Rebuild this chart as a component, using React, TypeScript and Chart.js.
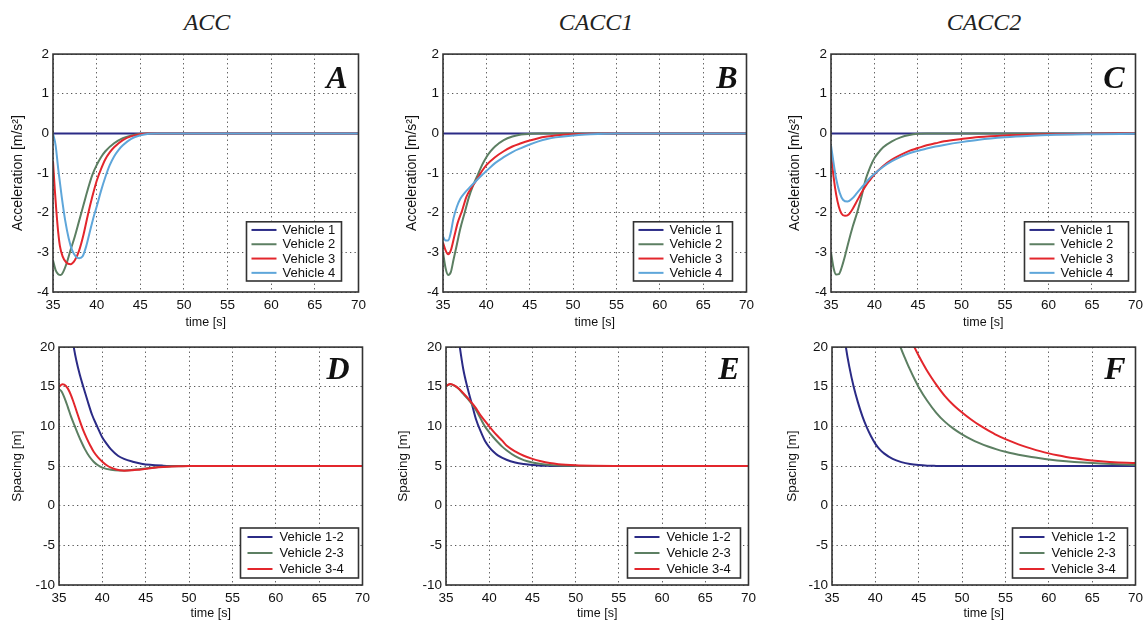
import React, { useEffect, useRef } from "react";
import { Chart, registerables } from "chart.js";

Chart.register(...registerables);

const SANS = '"Liberation Sans", Arial, Helvetica, sans-serif';
const SERIF = '"Liberation Serif", "Times New Roman", serif';

// ---------------- tick labels / categories ----------------
const X_TICKS = [35, 40, 45, 50, 55, 60, 65, 70];
const ACC_Y_TICKS = [-4, -3, -2, -1, 0, 1, 2];
const SPC_Y_TICKS = [-10, -5, 0, 5, 10, 15, 20];
const COLUMN_TITLES = ["ACC", "CACC1", "CACC2"];
const PANEL_LETTERS = ["A", "B", "C", "D", "E", "F"];
const ACC_LABELS = ["Vehicle 1", "Vehicle 2", "Vehicle 3", "Vehicle 4"];
const SPC_LABELS = ["Vehicle 1-2", "Vehicle 2-3", "Vehicle 3-4"];

// ---------------- A: ACC acceleration ----------------
const A_V1_T = [35, 70];
const A_V1 = [0, 0];
const A_V2_T = [35, 35.3, 35.6, 35.9, 36.2, 36.6, 37.0, 37.5, 38.0, 38.5, 39.0, 39.5, 40, 40.5, 41, 42, 43, 44, 45, 46, 70];
const A_V2 = [-3.2, -3.45, -3.55, -3.57, -3.48, -3.25, -2.95, -2.6, -2.2, -1.8, -1.4, -1.05, -0.8, -0.6, -0.45, -0.25, -0.12, -0.05, -0.01, 0, 0];
const A_V3_T = [35, 35.2, 35.4, 35.6, 35.8, 36.1, 36.5, 37.0, 37.5, 38.0, 38.5, 39.0, 39.5, 40, 40.5, 41, 41.5, 42, 43, 44, 45, 46, 70];
const A_V3 = [-0.7, -1.4, -2.0, -2.5, -2.85, -3.1, -3.25, -3.3, -3.2, -2.95, -2.55, -2.05, -1.6, -1.2, -0.9, -0.65, -0.48, -0.35, -0.17, -0.07, -0.02, 0, 0];
const A_V4_T = [35, 35.3, 35.6, 36.0, 36.4, 36.8, 37.2, 37.6, 38.0, 38.4, 38.8, 39.2, 39.6, 40.0, 40.5, 41, 41.5, 42, 42.5, 43, 44, 45, 46, 47, 70];
const A_V4 = [0, -0.3, -0.9, -1.6, -2.2, -2.65, -2.95, -3.1, -3.15, -3.1, -2.85, -2.5, -2.15, -1.85, -1.45, -1.1, -0.8, -0.58, -0.42, -0.3, -0.13, -0.05, -0.01, 0, 0];

// ---------------- B: CACC1 acceleration ----------------
const B_V1_T = [35, 70];
const B_V1 = [0, 0];
const B_V2_T = [35, 35.3, 35.6, 35.9, 36.2, 36.6, 37, 37.5, 38, 38.5, 39, 39.5, 40, 40.5, 41, 42, 43, 44, 45, 46, 70];
const B_V2 = [-3.0, -3.4, -3.57, -3.5, -3.2, -2.8, -2.4, -2.0, -1.6, -1.3, -1.05, -0.8, -0.6, -0.45, -0.33, -0.17, -0.08, -0.03, -0.01, 0, 0];
const B_V3_T = [35, 35.3, 35.6, 35.9, 36.3, 36.7, 37.2, 37.7, 38.2, 38.8, 39.5, 40, 41, 42, 43, 44, 45, 46, 47, 48, 50, 52, 54, 70];
const B_V3 = [-2.75, -2.95, -3.05, -2.95, -2.6, -2.25, -1.95, -1.6, -1.4, -1.2, -0.95, -0.8, -0.6, -0.45, -0.33, -0.25, -0.18, -0.12, -0.08, -0.05, -0.02, -0.01, 0, 0];
const B_V4_T = [35, 35.3, 35.6, 35.9, 36.2, 36.6, 37.0, 37.5, 38, 38.8, 39.5, 40, 41, 42, 43, 44, 45, 46, 47, 48, 50, 52, 55, 70];
const B_V4 = [-2.6, -2.7, -2.7, -2.5, -2.15, -1.85, -1.65, -1.5, -1.38, -1.2, -1.05, -0.95, -0.75, -0.6, -0.47, -0.37, -0.28, -0.2, -0.14, -0.1, -0.05, -0.02, 0, 0];

// ---------------- C: CACC2 acceleration ----------------
const C_V1_T = [35, 70];
const C_V1 = [0, 0];
const C_V2_T = [35, 35.3, 35.6, 35.9, 36.2, 36.6, 37, 37.5, 38, 38.5, 39, 39.5, 40, 40.5, 41, 42, 43, 44, 45, 46, 70];
const C_V2 = [-3.0, -3.4, -3.56, -3.55, -3.4, -3.1, -2.75, -2.35, -2.0, -1.6, -1.15, -0.85, -0.62, -0.47, -0.35, -0.2, -0.1, -0.04, -0.01, 0, 0];
const C_V3_T = [35, 35.3, 35.6, 35.9, 36.2, 36.6, 37.0, 37.5, 38, 38.5, 39, 39.5, 40, 41, 42, 43, 44, 45, 46, 47, 48, 50, 52, 55, 58, 60, 65, 70];
const C_V3 = [-0.5, -1.1, -1.55, -1.85, -2.02, -2.08, -2.05, -1.9, -1.7, -1.5, -1.32, -1.17, -1.03, -0.82, -0.66, -0.54, -0.44, -0.37, -0.3, -0.25, -0.2, -0.14, -0.09, -0.05, -0.03, -0.02, -0.01, 0];
const C_V4_T = [35, 35.3, 35.6, 36.0, 36.4, 36.9, 37.4, 38, 38.5, 39, 39.5, 40, 41, 42, 43, 44, 45, 46, 47, 48, 50, 52, 55, 58, 60, 65, 70];
const C_V4 = [-0.3, -0.75, -1.15, -1.5, -1.68, -1.72, -1.65, -1.5, -1.37, -1.24, -1.12, -1.02, -0.84, -0.7, -0.59, -0.5, -0.44, -0.38, -0.33, -0.29, -0.22, -0.16, -0.1, -0.06, -0.04, -0.02, -0.01];

// ---------------- D: ACC spacing ----------------
const D_S12_T = [36.4, 36.7, 37.0, 37.4, 37.8, 38.3, 38.8, 39.4, 40, 40.5, 41, 41.8, 42.5, 43.5, 44.5, 45.5, 47, 48, 50, 70];
const D_S12 = [22, 20, 18.3, 16.5, 15, 13.2, 11.5, 10, 8.6, 7.8, 7.1, 6.3, 5.9, 5.55, 5.3, 5.15, 5.05, 5.02, 5, 5];
const D_S23_T = [35, 35.3, 35.6, 36.0, 36.4, 36.8, 37.2, 37.6, 38.0, 38.5, 39, 39.5, 40, 41, 42, 43, 44, 45, 46, 47, 48, 50, 70];
const D_S23 = [14.7, 14.4, 13.7, 12.5, 11.2, 10.1, 9.0, 8.0, 7.1, 6.2, 5.55, 5.1, 4.8, 4.52, 4.45, 4.48, 4.58, 4.7, 4.82, 4.9, 4.96, 5, 5];
const D_S34_T = [35, 35.4, 35.8, 36.2, 36.6, 37.0, 37.4, 37.8, 38.2, 38.6, 39.0, 39.5, 40, 40.5, 41, 41.5, 42, 42.5, 43, 44, 45, 46, 47, 48, 49, 50, 70];
const D_S34 = [15.0, 15.3, 15.1, 14.4, 13.3, 12.0, 10.7, 9.5, 8.5, 7.6, 6.8, 6.1, 5.55, 5.1, 4.8, 4.6, 4.48, 4.42, 4.43, 4.52, 4.65, 4.78, 4.88, 4.95, 4.98, 5, 5];

// ---------------- E: CACC1 spacing ----------------
const E_S12_T = [36.3, 36.6, 37.0, 37.5, 38.0, 38.5, 39.0, 39.5, 40, 40.5, 41, 42, 43, 44, 45, 46, 47, 48, 70];
const E_S12 = [22.5, 20, 17.2, 14.8, 12.8, 10.8, 9.4, 8.2, 7.4, 6.8, 6.35, 5.8, 5.45, 5.25, 5.12, 5.05, 5.02, 5, 5];
const E_S23_T = [35, 35.5, 36, 36.5, 37, 37.5, 38, 38.5, 39, 39.5, 40, 40.5, 41, 41.5, 42, 43, 44, 45, 46, 47, 48, 50, 52, 70];
const E_S23 = [15.1, 15.3, 15.1, 14.7, 14.1, 13.5, 12.8, 12.0, 11.0, 10.0, 9.25, 8.6, 8.0, 7.45, 7.0, 6.25, 5.75, 5.45, 5.25, 5.13, 5.07, 5.02, 5, 5];
const E_S34_T = [35, 35.5, 36, 36.5, 37, 37.5, 38, 38.5, 39, 39.5, 40, 40.5, 41, 41.5, 42, 43, 44, 45, 46, 47, 48, 50, 52, 55, 58, 70];
const E_S34 = [15.1, 15.35, 15.15, 14.75, 14.2, 13.6, 12.95, 12.25, 11.4, 10.7, 10.0, 9.35, 8.75, 8.2, 7.6, 6.85, 6.3, 5.9, 5.6, 5.38, 5.24, 5.1, 5.04, 5.01, 5, 5];

// ---------------- F: CACC2 spacing ----------------
const F_S12_T = [36.3, 36.6, 37.0, 37.5, 38.0, 38.5, 39.0, 39.5, 40, 40.5, 41, 42, 43, 44, 45, 46, 47, 48, 70];
const F_S12 = [22.5, 20, 17.5, 15.0, 13.0, 11.3, 9.9, 8.75, 7.8, 7.1, 6.6, 5.9, 5.5, 5.25, 5.12, 5.05, 5.02, 5, 5];
const F_S23_T = [42.6, 42.9, 43.5, 44, 44.5, 45, 46, 47, 48, 49, 50, 51, 52, 53, 54, 55, 56, 57, 58, 59, 60, 62, 64, 66, 68, 70];
const F_S23 = [21, 20, 18.4, 17.15, 16.0, 14.95, 13.2, 11.75, 10.6, 9.72, 9.0, 8.4, 7.9, 7.47, 7.1, 6.8, 6.55, 6.33, 6.14, 5.98, 5.84, 5.62, 5.45, 5.32, 5.22, 5.14];
const F_S34_T = [44.0, 44.5, 45, 45.5, 46, 46.5, 47, 48, 49, 50, 51, 52, 53, 54, 55, 56, 57, 58, 59, 60, 61, 62, 63, 64, 65, 66, 67, 68, 69, 70];
const F_S34 = [21.2, 20, 18.9, 17.9, 16.95, 16.1, 15.3, 13.85, 12.7, 11.75, 10.9, 10.15, 9.5, 8.9, 8.4, 7.95, 7.55, 7.2, 6.88, 6.6, 6.36, 6.15, 5.97, 5.82, 5.7, 5.6, 5.52, 5.46, 5.41, 5.37];

// ---------------- styling ----------------
const COL_V1 = "#2b2b86";
const COL_V2 = "#5c7f62";
const COL_V3 = "#e3262c";
const COL_V4 = "#5ea6da";

type Series = { label: string; t: number[]; v: number[]; color: string };
type Panel = {
  letter: string;
  x: number; y: number; w: number; h: number;
  yW: number; xH: number; padTop: number; padRight: number;
  yTicks: number[]; yTitle: string; yTitleSize: number; yTitlePad: number;
  xTickPad: number;
  letterRight: number; letterBase: number;
  legend: { right: number; bottom: number; width: number; rowH: number; padV: number; padL: number; lineLen: number; gap: number };
  series: Series[];
};

const mk = (labels: string[], cols: string[], ts: number[][], vs: number[][]): Series[] =>
  labels.map((label, i) => ({ label, t: ts[i], v: vs[i], color: cols[i] }));

const ACC_COLS = [COL_V1, COL_V2, COL_V3, COL_V4];
const SPC_COLS = [COL_V1, COL_V2, COL_V3];

const topLegend = (right: number, width: number) => ({ right, bottom: 11, width, rowH: 14.3, padV: 1, padL: 5, lineLen: 25, gap: 6 });
const botLegend = (right: number, width: number) => ({ right, bottom: 7, width, rowH: 16, padV: 1, padL: 7, lineLen: 25, gap: 7 });

const PANELS: Panel[] = [
  {
    letter: PANEL_LETTERS[0], x: 0, y: 42, w: 371, h: 288, yW: 53, xH: 38, padTop: 10, padRight: 10,
    yTicks: ACC_Y_TICKS, yTitle: "Acceleration [m/s²]", yTitleSize: 14, yTitlePad: 10, xTickPad: 5,
    letterRight: 11, letterBase: 34, legend: topLegend(17, 95),
    series: mk(ACC_LABELS, ACC_COLS, [A_V1_T, A_V2_T, A_V3_T, A_V4_T], [A_V1, A_V2, A_V3, A_V4]),
  },
  {
    letter: PANEL_LETTERS[1], x: 388, y: 42, w: 371, h: 288, yW: 55, xH: 38, padTop: 10, padRight: 10,
    yTicks: ACC_Y_TICKS, yTitle: "Acceleration [m/s²]", yTitleSize: 14, yTitlePad: 16, xTickPad: 5,
    letterRight: 9, letterBase: 34, legend: topLegend(14, 99),
    series: mk(ACC_LABELS, ACC_COLS, [B_V1_T, B_V2_T, B_V3_T, B_V4_T], [B_V1, B_V2, B_V3, B_V4]),
  },
  {
    letter: PANEL_LETTERS[2], x: 776, y: 42, w: 372, h: 288, yW: 55, xH: 38, padTop: 10, padRight: 10,
    yTicks: ACC_Y_TICKS, yTitle: "Acceleration [m/s²]", yTitleSize: 14, yTitlePad: 11, xTickPad: 5,
    letterRight: 11, letterBase: 34, legend: topLegend(7, 104),
    series: mk(ACC_LABELS, ACC_COLS, [C_V1_T, C_V2_T, C_V3_T, C_V4_T], [C_V1, C_V2, C_V3, C_V4]),
  },
  {
    letter: PANEL_LETTERS[3], x: 4, y: 335, w: 371, h: 286, yW: 55, xH: 36, padTop: 10, padRight: 10,
    yTicks: SPC_Y_TICKS, yTitle: "Spacing [m]", yTitleSize: 13.5, yTitlePad: 5, xTickPad: 5,
    letterRight: 13, letterBase: 32, legend: botLegend(4, 118),
    series: mk(SPC_LABELS, SPC_COLS, [D_S12_T, D_S23_T, D_S34_T], [D_S12, D_S23, D_S34]),
  },
  {
    letter: PANEL_LETTERS[4], x: 391, y: 335, w: 370, h: 286, yW: 55, xH: 36, padTop: 10, padRight: 10,
    yTicks: SPC_Y_TICKS, yTitle: "Spacing [m]", yTitleSize: 13.5, yTitlePad: 4, xTickPad: 5,
    letterRight: 9, letterBase: 32, legend: botLegend(8, 113),
    series: mk(SPC_LABELS, SPC_COLS, [E_S12_T, E_S23_T, E_S34_T], [E_S12, E_S23, E_S34]),
  },
  {
    letter: PANEL_LETTERS[5], x: 777, y: 335, w: 371, h: 286, yW: 55, xH: 36, padTop: 10, padRight: 10,
    yTicks: SPC_Y_TICKS, yTitle: "Spacing [m]", yTitleSize: 13.5, yTitlePad: 7, xTickPad: 5,
    letterRight: 10, letterBase: 32, legend: botLegend(8, 115),
    series: mk(SPC_LABELS, SPC_COLS, [F_S12_T, F_S23_T, F_S34_T], [F_S12, F_S23, F_S34]),
  },
];

const TITLE_CENTERS = [207, 596, 984];

const decoPlugin = {
  id: "panelDeco",
  afterDatasetsDraw(chart: any, _args: any, opts: any) {
    const { ctx, chartArea } = chart;
    const ca = chartArea;
    ctx.save();
    // frame
    ctx.strokeStyle = "#333";
    ctx.lineWidth = 1.6;
    ctx.strokeRect(ca.left, ca.top, ca.right - ca.left, ca.bottom - ca.top);
    // letter
    ctx.fillStyle = "#111";
    ctx.font = `bold italic 32px ${SERIF}`;
    ctx.textAlign = "right";
    ctx.textBaseline = "alphabetic";
    ctx.fillText(opts.letter, ca.right - opts.letterRight, ca.top + opts.letterBase);
    // legend
    const lg = opts.legend;
    const ds = chart.data.datasets;
    const h = ds.length * lg.rowH + lg.padV * 2;
    const x = ca.right - lg.right - lg.width;
    const y = ca.bottom - lg.bottom - h;
    ctx.fillStyle = "#fff";
    ctx.fillRect(x, y, lg.width, h);
    ctx.strokeStyle = "#333";
    ctx.lineWidth = 1.6;
    ctx.strokeRect(x, y, lg.width, h);
    ctx.font = `13px ${SANS}`;
    ctx.textAlign = "left";
    ctx.textBaseline = "middle";
    ds.forEach((d: any, i: number) => {
      const cy = y + lg.padV + lg.rowH * (i + 0.5);
      ctx.strokeStyle = d.borderColor;
      ctx.lineWidth = 2;
      ctx.beginPath();
      ctx.moveTo(x + lg.padL, cy);
      ctx.lineTo(x + lg.padL + lg.lineLen, cy);
      ctx.stroke();
      ctx.fillStyle = "#111";
      ctx.fillText(d.label, x + lg.padL + lg.lineLen + lg.gap, cy + 0.5);
    });
    ctx.restore();
  },
};

function PanelChart({ p }: { p: Panel }) {
  const ref = useRef<HTMLCanvasElement>(null);
  useEffect(() => {
    const chart = new Chart(ref.current as HTMLCanvasElement, {
      type: "line",
      data: {
        datasets: p.series.map((s, idx) => ({
          label: s.label,
          data: s.t.map((t, i) => ({ x: t, y: s.v[i] })),
          borderColor: s.color,
          backgroundColor: s.color,
          borderWidth: 2,
          pointRadius: 0,
          fill: false,
          order: -idx,
          cubicInterpolationMode: "monotone" as const,
        })),
      },
      plugins: [decoPlugin],
      options: {
        animation: false,
        responsive: false,
        devicePixelRatio: 1,
        events: [],
        layout: { padding: { top: p.padTop, right: p.padRight, left: 0, bottom: 0 } },
        plugins: {
          legend: { display: false },
          tooltip: { enabled: false },
          panelDeco: { letter: p.letter, letterRight: p.letterRight, letterBase: p.letterBase, legend: p.legend },
        } as any,
        scales: {
          x: {
            type: "linear",
            min: X_TICKS[0],
            max: X_TICKS[X_TICKS.length - 1],
            afterBuildTicks: (s: any) => { s.ticks = X_TICKS.map((v) => ({ value: v })); },
            afterFit: (s: any) => { s.height = p.xH; },
            ticks: { font: { family: SANS, size: 13.5 }, color: "#111", padding: p.xTickPad, maxRotation: 0, autoSkip: false },
            grid: { color: "#555", lineWidth: 1, drawTicks: false },
            border: { display: false, dash: [1.3, 3.2] },
            title: { display: true, text: "time [s]", font: { family: SANS, size: 12.5 }, color: "#111", padding: { top: 0, bottom: 0 } },
          },
          y: {
            type: "linear",
            min: p.yTicks[0],
            max: p.yTicks[p.yTicks.length - 1],
            afterBuildTicks: (s: any) => { s.ticks = p.yTicks.map((v) => ({ value: v })); },
            afterFit: (s: any) => { s.width = p.yW; },
            ticks: { font: { family: SANS, size: 13.5 }, color: "#111", padding: 4, autoSkip: false },
            grid: { color: "#555", lineWidth: 1, drawTicks: false },
            border: { display: false, dash: [1.3, 3.2] },
            title: { display: true, text: p.yTitle, font: { family: SANS, size: p.yTitleSize }, color: "#111", padding: { top: p.yTitlePad, bottom: 0 } },
          },
        },
      } as any,
    });
    return () => chart.destroy();
  }, []);
  return (
    <canvas
      ref={ref}
      width={p.w}
      height={p.h}
      style={{ position: "absolute", left: p.x, top: p.y, width: p.w, height: p.h }}
    />
  );
}

export default function App() {
  return (
    <div style={{ position: "absolute", left: 0, top: 0, width: 1148, height: 624, background: "#fff", overflow: "hidden" }}>
      {COLUMN_TITLES.map((t, i) => (
        <div
          key={t}
          style={{
            position: "absolute",
            left: TITLE_CENTERS[i],
            top: 7,
            transform: "translateX(-50%)",
            fontFamily: SERIF,
            fontStyle: "italic",
            fontSize: 24,
            lineHeight: "30px",
            color: "#222",
            whiteSpace: "nowrap",
          }}
        >
          {t}
        </div>
      ))}
      {PANELS.map((p) => (
        <PanelChart key={p.letter} p={p} />
      ))}
    </div>
  );
}
